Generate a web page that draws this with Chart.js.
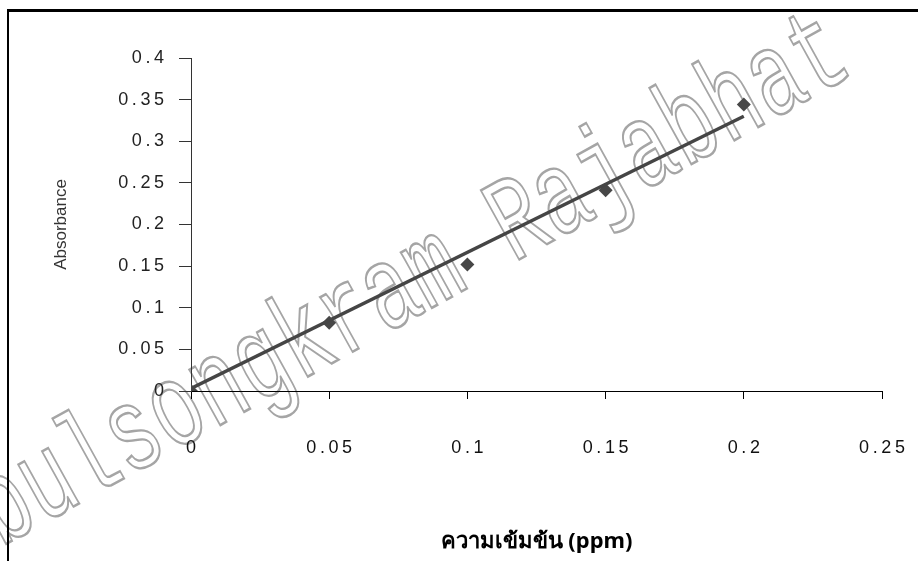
<!DOCTYPE html>
<html>
<head>
<meta charset="utf-8">
<script src="https://cdn.jsdelivr.net/npm/chart.js@4.4.1/dist/chart.umd.min.js"></script>
<style>
  html, body { margin: 0; padding: 0; background: #fff; }
  #wrap { position: relative; width: 918px; height: 561px; }
</style>
</head>
<body>
<div id="wrap"><canvas id="c" width="918" height="561"></canvas></div>
<script>
// Data
const concentration = [0, 0.05, 0.1, 0.15, 0.2];
const absorbance = [0, 0.082, 0.152, 0.241, 0.344];
const trendX = [0, 0.2];
const trendY = [0.003, 0.330];
const xTicks = [0, 0.05, 0.1, 0.15, 0.2, 0.25];
const yTicks = [0, 0.05, 0.1, 0.15, 0.2, 0.25, 0.3, 0.35, 0.4];
const xTitle = 'ความเข้มข้น (ppm)';
const yTitle = 'Absorbance';
const watermark = 'Pibulsongkram Rajabhat';

const points = concentration.map((x, i) => ({ x: x, y: absorbance[i] }));
const trend = trendX.map((x, i) => ({ x: x, y: trendY[i] }));

// spaced-out tick text, like the reference
const spaced = v => String(v).split('').join('\u2009');

const framePlugin = {
  id: 'frame',
  beforeDraw(chart) {
    const ctx = chart.ctx;
    ctx.save();
    ctx.fillStyle = '#fff';
    ctx.fillRect(0, 0, chart.width, chart.height);
    // watermark (outlined text)
    ctx.translate(-86, 595);
    ctx.rotate(-29 * Math.PI / 180);
    ctx.scale(0.68, 1);
    ctx.font = '120px "Liberation Mono"';
    ctx.strokeStyle = '#a5a5a5';
    ctx.lineWidth = 2.5;
    ctx.strokeText(watermark, 0, 0);
    ctx.restore();
  },
  afterDraw(chart) {
    const ctx = chart.ctx;
    ctx.save();
    ctx.strokeStyle = '#000';
    ctx.lineWidth = 3;
    ctx.beginPath();
    ctx.moveTo(7, 10.5);
    ctx.lineTo(chart.width, 10.5);
    ctx.stroke();
    ctx.lineWidth = 2;
    ctx.beginPath();
    ctx.moveTo(8, 9);
    ctx.lineTo(8, chart.height);
    ctx.stroke();
    ctx.restore();
  }
};

new Chart(document.getElementById('c'), {
  type: 'scatter',
  data: {
    datasets: [
      {
        label: 'Trend',
        data: trend,
        showLine: true,
        borderColor: '#454545',
        borderWidth: 3.5,
        pointRadius: 0,
        fill: false
      },
      {
        label: 'Absorbance',
        data: points,
        pointStyle: 'rectRot',
        pointRadius: 7,
        backgroundColor: '#474747',
        borderColor: '#474747',
        borderWidth: 0
      }
    ]
  },
  options: {
    responsive: false,
    animation: false,
    events: [],
    layout: { padding: { top: 58, right: 36, left: 0, bottom: 0 } },
    plugins: { legend: { display: false }, tooltip: { enabled: false } },
    scales: {
      x: {
        type: 'linear',
        min: 0, max: 0.25,
        afterBuildTicks(scale) { scale.ticks = xTicks.map(v => ({ value: v })); },
        afterFit(scale) { scale.height = 170; scale.paddingRight = 0; scale.paddingLeft = 0; },
        grid: { drawOnChartArea: false, drawTicks: true, tickLength: 8, color: '#000', tickColor: '#000' },
        border: { color: '#000', width: 1 },
        ticks: {
          color: '#111',
          padding: 38,
          maxRotation: 0,
          autoSkip: false,
          font: { family: '"Liberation Sans", Arial, sans-serif', size: 18 },
          callback: v => spaced(v)
        },
        title: {
          display: true,
          text: xTitle,
          color: '#000',
          font: { family: '"Noto Sans", "DejaVu Sans", sans-serif', size: 22, weight: 'bold' },
          padding: { top: 0, bottom: 6 }
        }
      },
      y: {
        type: 'linear',
        min: 0, max: 0.4,
        afterBuildTicks(scale) { scale.ticks = yTicks.map(v => ({ value: v })); },
        afterFit(scale) { scale.width = 191; scale.paddingTop = 0; },
        grid: { drawOnChartArea: false, drawTicks: true, tickLength: 12, color: '#333', tickColor: '#333' },
        border: { color: '#333', width: 1 },
        ticks: {
          color: '#222',
          padding: 15,
          autoSkip: false,
          font: { family: '"Liberation Sans", Arial, sans-serif', size: 18 },
          callback: v => spaced(v)
        },
        title: {
          display: true,
          text: yTitle,
          color: '#333',
          font: { family: '"Liberation Sans", Arial, sans-serif', size: 17 },
          padding: { top: 51, bottom: 0 }
        }
      }
    }
  }
  ,
  plugins: [framePlugin]
});
</script>
</body>
</html>
